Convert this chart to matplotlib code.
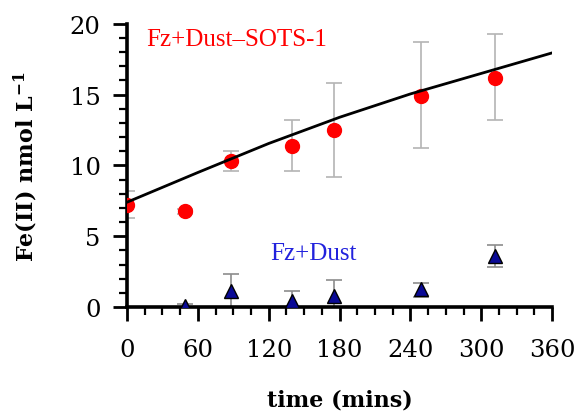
import matplotlib
matplotlib.use('Agg')
import matplotlib.pyplot as plt
from matplotlib.ticker import MultipleLocator

# Fz+Dust-SOTS-1 (red circles)
sots_t = [0, 49, 88, 140, 175, 249, 312]
sots_fe = [7.2, 6.75, 10.3, 11.4, 12.5, 14.9, 16.2]
sots_err_lo = [0.9, 0.15, 0.7, 1.8, 3.3, 3.7, 3.0]
sots_err_hi = [1.0, 0.15, 0.7, 1.8, 3.3, 3.8, 3.1]

# Fz+Dust (blue triangles)
dust_t = [49, 88, 140, 175, 249, 312]
dust_fe = [0.1, 1.1, 0.4, 0.8, 1.3, 3.6]
dust_err_lo = [0.1, 1.2, 0.7, 1.1, 0.6, 0.8]
dust_err_hi = [0.1, 1.2, 0.7, 1.1, 0.4, 0.8]

# fitted curve
fit_t = [0, 60, 120, 180, 240, 300, 360]
fit_fe = [7.4, 9.5, 11.55, 13.4, 15.05, 16.5, 17.95]

fig = plt.figure(figsize=(5.77, 4.14), dpi=100)
ax = fig.add_axes([0.220, 0.256, 0.737, 0.684])

ax.errorbar(sots_t, sots_fe, yerr=[sots_err_lo, sots_err_hi], fmt='none',
            ecolor='#b4b4b4', elinewidth=1.2, capsize=6, capthick=1.2, zorder=2)
ax.plot(sots_t, sots_fe, 'o', color='#ff0000', markersize=10, zorder=3)

ax.errorbar(dust_t, dust_fe, yerr=[dust_err_lo, dust_err_hi], fmt='none',
            ecolor='#8c8c8c', elinewidth=1.2, capsize=6, capthick=1.2, zorder=2)
ax.plot(dust_t, dust_fe, '^', color='#0a0a96', markeredgecolor='black',
        markeredgewidth=1.0, markersize=10, zorder=3)

ax.plot(fit_t, fit_fe, color='black', linewidth=2.0, zorder=4)

ax.text(16, 18.9, 'Fz+Dust\u2013SOTS-1', color='#ff0000', fontsize=18,
        family='Liberation Serif', va='center', ha='left')
ax.text(121, 3.8, 'Fz+Dust', color='#2222dd', fontsize=18,
        family='Liberation Serif', va='center', ha='left')

ax.set_xlim(0, 360)
ax.set_ylim(0, 20)
ax.xaxis.set_major_locator(MultipleLocator(60))
ax.xaxis.set_minor_locator(MultipleLocator(15))
ax.yaxis.set_major_locator(MultipleLocator(5))
ax.yaxis.set_minor_locator(MultipleLocator(1))

for s in ['top', 'right']:
    ax.spines[s].set_visible(False)
for s in ['left', 'bottom']:
    ax.spines[s].set_linewidth(2.6)

ax.tick_params(which='major', direction='out', length=10, width=2, labelsize=17.5)
ax.tick_params(which='minor', direction='out', length=6, width=1.6)
ax.tick_params(axis='x', which='major', pad=12)
ax.tick_params(axis='y', which='major', pad=9)
for lbl in ax.get_xticklabels() + ax.get_yticklabels():
    lbl.set_family('DejaVu Serif')

ax.set_xlabel('time (mins)', fontsize=16, fontweight='bold', family='DejaVu Serif', labelpad=20)
ax.set_ylabel('Fe(II) nmol L$^{\\mathregular{-1}}$', fontsize=16, fontweight='bold',
              family='DejaVu Serif', labelpad=21)

plt.savefig('out.png', dpi=100)
plt.close()
